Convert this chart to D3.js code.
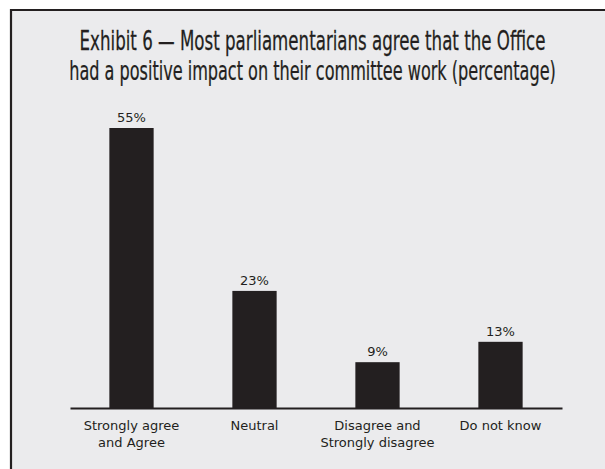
<!DOCTYPE html>
<html lang="en">

<head>
    <meta charset="UTF-8">
    <title>Exhibit 6</title>
    <script src="https://d3js.org/d3.v7.min.js"></script>
    <style>
        html,
        body {
            margin: 0;
            height: 100%;
            overflow: hidden;
            background: #fff;
        }
    </style>
</head>

<body>
    <svg id="svg"></svg>
    <script>
        const categories = ['Strongly agree|and Agree', 'Neutral', 'Disagree and|Strongly disagree', 'Do not know'];
        const values = [55, 23, 9, 13];
        const titleLines = [
            'Exhibit 6 \u2014 Most parliamentarians agree that the Office',
            'had a positive impact on their committee work (percentage)'
        ];

        const width = 605, height = 469;
        const svg = d3.select('#svg').attr('width', width).attr('height', height);
        const ink = '#231f20';
        const labelFont = "'DejaVu Sans', sans-serif";

        // panel: only top and left edges are visible in the crop
        svg.append('rect').attr('x', 11).attr('y', 10).attr('width', width).attr('height', height)
            .attr('fill', '#ebebed');
        svg.append('path').attr('d', `M11,${height} V10 H${width}`)
            .attr('fill', 'none').attr('stroke', ink).attr('stroke-width', 2.2);

        // title: narrow font, squeezed to the measured widths
        const titleFont = "'Liberation Sans Narrow','DejaVu Sans Condensed','Roboto',sans-serif";
        const titleWidths = [466, 487];
        svg.selectAll('.title').data(titleLines).join('text')
            .attr('class', 'title')
            .attr('text-anchor', 'middle')
            .attr('font-family', titleFont)
            .attr('font-size', 26)
            .attr('stroke', ink)
            .attr('stroke-width', 0.25)
            .attr('fill', ink)
            .text(d => d)
            .attr('transform', function (d, i) {
                const w = this.getComputedTextLength();
                const sx = titleWidths[i] / w;
                return `translate(312.5,${50 + i * 30}) scale(${sx},1)`;
            });

        const margin = { left: 70, right: 43, top: 128, bottom: 61 };
        const x = d3.scaleBand().domain(categories)
            .range([margin.left, width - margin.right])
            .paddingInner(0.64).paddingOuter(0.32);
        const y = d3.scaleLinear().domain([0, 55]).range([height - margin.bottom, margin.top]);

        const g = svg.append('g');
        g.selectAll('.bar').data(values).join('rect')
            .attr('class', 'bar')
            .attr('x', (d, i) => x(categories[i]))
            .attr('y', d => y(d))
            .attr('width', x.bandwidth())
            .attr('height', d => y(0) - y(d))
            .attr('fill', ink);

        g.selectAll('.val').data(values).join('text')
            .attr('class', 'val')
            .attr('x', (d, i) => x(categories[i]) + x.bandwidth() / 2)
            .attr('y', d => y(d) - 6)
            .attr('text-anchor', 'middle')
            .attr('font-family', labelFont)
            .attr('font-size', 13)
            .attr('fill', ink)
            .text(d => d + '%');

        // x axis
        const axis = svg.append('g').attr('transform', `translate(0,${y(0)})`)
            .call(d3.axisBottom(x).tickSize(0).tickFormat(''));
        axis.select('.domain').attr('stroke', ink).attr('stroke-width', 2.2);

        const labels = svg.selectAll('.cat').data(categories).join('text')
            .attr('class', 'cat')
            .attr('text-anchor', 'middle')
            .attr('font-family', labelFont)
            .attr('font-size', 13)
            .attr('fill', ink);
        labels.selectAll('tspan').data(d => d.split('|').map(t => ({ t, c: d }))).join('tspan')
            .attr('x', d => x(d.c) + x.bandwidth() / 2)
            .attr('y', (d, i) => 430 + i * 17)
            .text(d => d.t);
    </script>
</body>

</html>
